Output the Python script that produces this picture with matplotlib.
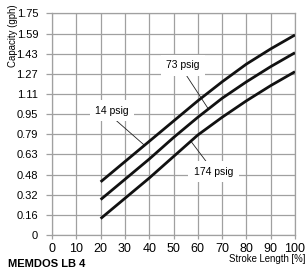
import numpy as np
import matplotlib
matplotlib.use("Agg")
import matplotlib.pyplot as plt

# stroke length (%) and capacity (gph)
stroke = [20, 30, 40, 50, 60, 70, 80, 90, 100]
cap_14 = [0.42, 0.58, 0.74, 0.90, 1.06, 1.21, 1.35, 1.47, 1.58]
cap_73 = [0.28, 0.44, 0.60, 0.77, 0.93, 1.08, 1.21, 1.33, 1.44]
cap_174 = [0.13, 0.29, 0.45, 0.62, 0.79, 0.93, 1.06, 1.18, 1.29]

x_ticks = [0, 10, 20, 30, 40, 50, 60, 70, 80, 90, 100]
y_tick_labels = ["0", "0.16", "0.32", "0.48", "0.63", "0.79",
                 "0.95", "1.11", "1.27", "1.43", "1.59", "1.75"]

plt.rcParams['font.family'] = ['Liberation Sans', 'DejaVu Sans']

grid_col = "#a0a0a0"

fig = plt.figure(figsize=(3.06, 2.74), dpi=100)
ax = fig.add_axes([0.17, 0.142, 0.794, 0.809])

# the three pressure curves
for cap in (cap_14, cap_73, cap_174):
    ax.plot(stroke, cap, color="#111111", lw=2.0, solid_capstyle="butt", zorder=3)

ax.set_xlim(0, 100)
ax.set_ylim(0, 1.75)
ax.set_xticks(x_ticks)
ax.set_yticks(np.linspace(0, 1.75, len(y_tick_labels)))
ax.set_yticklabels(y_tick_labels)
ax.grid(True, color=grid_col, lw=0.9)
ax.set_axisbelow(True)
for s in ax.spines.values():
    s.set_color(grid_col)
    s.set_linewidth(0.9)
ax.tick_params(axis="x", colors=grid_col, labelcolor="black", labelsize=9,
               length=3, width=0.9, pad=3)
ax.tick_params(axis="y", colors=grid_col, labelcolor="black", labelsize=8,
               length=4, width=0.9, pad=6)

# curve labels with leader lines
box = dict(facecolor="white", edgecolor="none", pad=4)
labels = [("14 psig", (24.7, 0.98), (38, 0.71), (25.5, 0.92)),
          ("73 psig", (54.0, 1.34), (64.2, 1.00), (55.0, 1.27)),
          ("174 psig", (66.5, 0.50), (57.2, 0.74), (63.5, 0.58))]
for txt, pos, tip, start in labels:
    ax.plot([start[0], tip[0]], [start[1], tip[1]], color="#222222", lw=0.6, zorder=2)
    ax.text(pos[0], pos[1], txt, ha="center", va="center", fontsize=7.5,
            bbox=box, zorder=2)

fig.text(13 / 306, 1 - 36 / 274, "Capacity (gph)", rotation=90,
         ha="center", va="center", fontsize=6.9)
fig.text(0.998, 1 - 259 / 274, "Stroke Length [%]", ha="right", va="center",
         fontsize=6.9)
fig.text(8 / 306, 1 - 264 / 274, "MEMDOS LB 4", ha="left", va="center",
         fontsize=8, fontweight="bold")

fig.savefig("out.png", dpi=100)
